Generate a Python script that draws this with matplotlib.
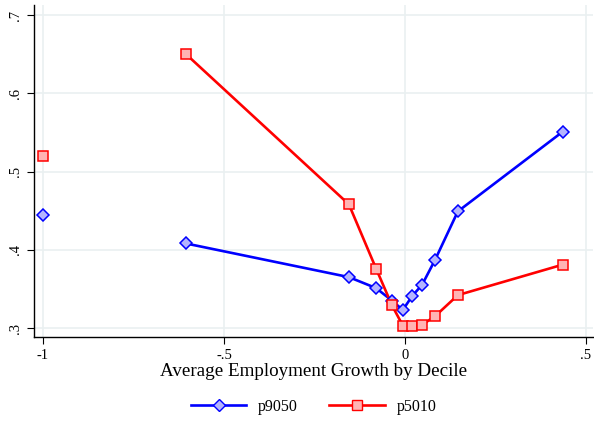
import matplotlib
matplotlib.use('Agg')
import matplotlib.pyplot as plt
import numpy as np

# employment growth by decile and dispersion measures
growth = [-1.0, -0.605, -0.155, -0.08, -0.036, -0.006, 0.02, 0.047, 0.083, 0.146, 0.436]
p9050 = [0.445, 0.408, 0.365, 0.351, 0.335, 0.323, 0.341, 0.355, 0.387, 0.449, 0.551]
p5010 = [0.520, 0.650, 0.458, 0.376, 0.329, 0.303, 0.302, 0.304, 0.315, 0.342, 0.381]
series_names = ['p9050', 'p5010']
x_ticks = [-1, -0.5, 0, 0.5]
x_labels = ['-1', '-.5', '0', '.5']
y_ticks = [0.3, 0.4, 0.5, 0.6, 0.7]
y_labels = ['.3', '.4', '.5', '.6', '.7']

plt.rcParams['font.family'] = ['Liberation Serif', 'DejaVu Serif']

fig = plt.figure(figsize=(5.94, 4.22), dpi=100)
ax = fig.add_axes([34/594, 85/422, (593-34)/594, (337-5)/422])

for i in x_ticks:
    ax.axvline(i, color='#eaf0f1', lw=1.2, zorder=0)
for i in y_ticks:
    ax.axhline(i, color='#eaf0f1', lw=1.2, zorder=0)

# first decile is not joined to the rest
ax.plot(growth[1:], p9050[1:], color='#0000ff', lw=1.9, zorder=2)
ax.plot(growth[1:], p5010[1:], color='#ff0000', lw=1.9, zorder=3)
ax.plot(growth, p9050, ls='none', marker='D', ms=6, mfc='#b4b4ff', mec='#0000ff', mew=1.1, zorder=4)
ax.plot(growth, p5010, ls='none', marker='s', ms=6.5, mfc='#ffb4b4', mec='#ff0000', mew=1.1, zorder=5)

ax.set_xlim(-1 - 9/362, 0.5 + 7/362)
ax.set_ylim(0.3 - 9/780, 0.7 + 10/780)
ax.set_xticks(x_ticks, labels=x_labels, fontsize=10.5)
ax.set_yticks(y_ticks, labels=y_labels, fontsize=10.5, rotation=90, va='center')
ax.tick_params(direction='out', length=5, width=0.8, color='black')
for s in ['top', 'right']:
    ax.spines[s].set_visible(False)
for s in ['left', 'bottom']:
    ax.spines[s].set_linewidth(1.0)
ax.set_xlabel('Average Employment Growth by Decile', fontsize=13.7, labelpad=1)

h1 = plt.Line2D([], [], color='#0000ff', lw=1.9, marker='D', ms=6, mfc='#b4b4ff', mec='#0000ff')
h2 = plt.Line2D([], [], color='#ff0000', lw=1.9, marker='s', ms=6.5, mfc='#ffb4b4', mec='#ff0000')
fig.legend([h1, h2], series_names, loc='center', bbox_to_anchor=(313.5/594, 1 - 407/422),
           ncol=2, frameon=False, fontsize=11.5, handlelength=3.5, columnspacing=2.0, handletextpad=0.7)

fig.savefig('out.png', dpi=100, facecolor='white')
